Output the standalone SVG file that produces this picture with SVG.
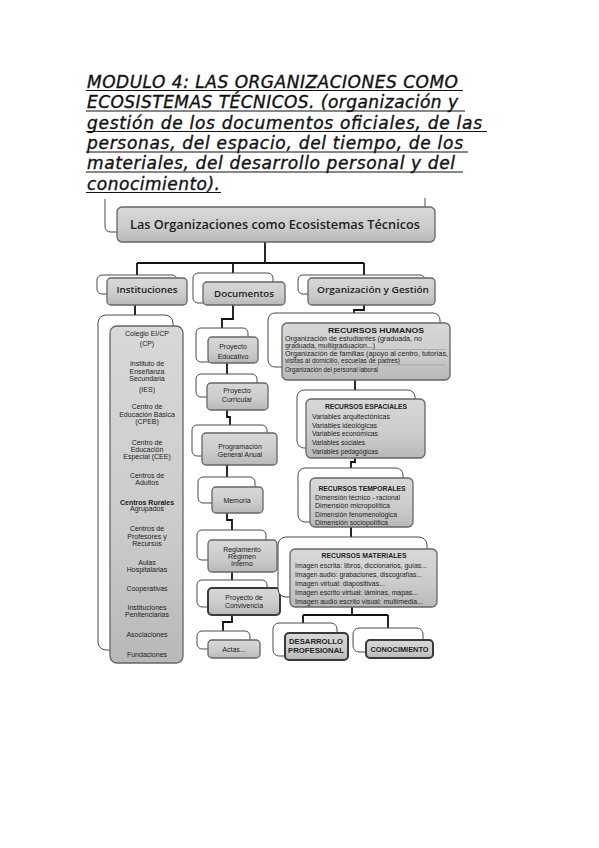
<svg xmlns="http://www.w3.org/2000/svg" width="599" height="848" viewBox="0 0 599 848">
<defs>
<linearGradient id="g" x1="0" y1="0" x2="0" y2="1">
<stop offset="0" stop-color="#d8d8d8"/>
<stop offset="0.6" stop-color="#cbcbcb"/>
<stop offset="1" stop-color="#b8b8b8"/>
</linearGradient>
</defs>
<style>
.title{font-family:"DejaVu Sans",sans-serif;font-style:oblique;font-size:17px;fill:#111;stroke:#111;stroke-width:0.35;}
.ul{stroke:#111;stroke-width:1.2;}
.back{fill:#fff;stroke:#4a4a4a;stroke-width:1;}
.box{fill:url(#g);stroke:#666;stroke-width:1.3;}
.dk{stroke:#3a3a3a;stroke-width:2;}
.conn{fill:none;stroke:#111;stroke-width:1.8;}
.t{font-family:"Liberation Sans",Arial,sans-serif;fill:#222;text-anchor:middle;font-size:7px;}
.h{font-family:"Open Sans","Liberation Sans",sans-serif;fill:#222;text-anchor:middle;font-weight:600;}
.l{font-family:"Liberation Sans",Arial,sans-serif;fill:#222;font-size:6.5px;}
.b{font-weight:bold;}
.sep{stroke:#9a9a9a;stroke-width:0.6;}
</style>
<rect width="599" height="848" fill="#fff"/>
<g id="title">
<text class="title" x="87" y="87.5" textLength="371" lengthAdjust="spacing">MODULO 4: LAS ORGANIZACIONES COMO</text>
<text class="title" x="87" y="108" textLength="371" lengthAdjust="spacing">ECOSISTEMAS TÉCNICOS. (organización y</text>
<text class="title" x="87" y="128.5" textLength="395" lengthAdjust="spacing">gestión de los documentos oficiales, de las</text>
<text class="title" x="87" y="149" textLength="376" lengthAdjust="spacing">personas, del espacio, del tiempo, de los</text>
<text class="title" x="87" y="169" textLength="368" lengthAdjust="spacing">materiales, del desarrollo personal y del</text>
<text class="title" x="87" y="189.5" textLength="133" lengthAdjust="spacing">conocimiento).</text>
<line class="ul" x1="86" y1="90.5" x2="463" y2="90.5"/>
<line class="ul" x1="86" y1="111" x2="465" y2="111"/>
<line class="ul" x1="86" y1="131.5" x2="487" y2="131.5"/>
<line class="ul" x1="86" y1="152" x2="468" y2="152"/>
<line class="ul" x1="86" y1="172" x2="463" y2="172"/>
<line class="ul" x1="86" y1="192.5" x2="221" y2="192.5"/>
</g>
<g id="frame">
<path d="M105,199 V226 Q105,232 111,232 H118" fill="none" stroke="#4a4a4a" stroke-width="1"/>
<line x1="425" y1="198" x2="425" y2="207" stroke="#4a4a4a" stroke-width="1"/>
</g>
<g id="connectors">
<path class="conn" d="M265,242 V263"/>
<path class="conn" d="M137,263 H364"/>
<path class="conn" d="M137,263 V275"/>
<path class="conn" d="M233,263 V273"/>
<path class="conn" d="M364,263 V275"/>
<path class="conn" d="M135,305 V315"/>
<path class="conn" d="M233,305 V319 H222 V328"/>
<path class="conn" d="M227,363 V375"/>
<path class="conn" d="M227,410 V417 H230 V425"/>
<path class="conn" d="M227,465 V477"/>
<path class="conn" d="M227,513 V520 H232 V530"/>
<path class="conn" d="M232,572 V580"/>
<path class="conn" d="M232,615 V622 H223 V631"/>
<path class="conn" d="M364,305 V310 H354 V313"/>
<path class="conn" d="M355,380 V390"/>
<path class="conn" d="M355,458 V462 H351 V468"/>
<path class="conn" d="M351,527 V537"/>
<path class="conn" d="M352,607 V615"/>
<path class="conn" d="M303,615 H388"/>
<path class="conn" d="M303,615 V623"/>
<path class="conn" d="M388,615 V628"/>
</g>
<g id="n-main">
<rect class="box" x="117" y="207" width="318" height="35" rx="5" stroke="#5a5a5a"/>
<text class="h" x="275" y="229" font-size="13" textLength="290" lengthAdjust="spacingAndGlyphs">Las Organizaciones como Ecosistemas Técnicos</text>
</g>
<g id="n-instituciones">
<rect class="back" x="97" y="275" width="80" height="19" rx="5"/>
<rect class="box" x="107" y="278" width="80" height="27" rx="4"/>
<text class="h" x="147" y="292.5" font-size="9.5" textLength="61" lengthAdjust="spacingAndGlyphs">Instituciones</text>
</g>
<g id="n-documentos">
<rect class="back" x="193" y="273" width="80" height="30" rx="5"/>
<rect class="box" x="203" y="282" width="82" height="23" rx="4"/>
<text class="h" x="244" y="297" font-size="9.5" textLength="60" lengthAdjust="spacingAndGlyphs">Documentos</text>
</g>
<g id="n-organizacion">
<rect class="back" x="298" y="275" width="127" height="19" rx="5"/>
<rect class="box" x="308" y="278" width="127" height="27" rx="4"/>
<text class="h" x="373" y="293" font-size="9.5" textLength="112" lengthAdjust="spacingAndGlyphs">Organización y Gestión</text>
</g>
<g id="n-lista-instituciones">
<rect class="back" x="98" y="315" width="75" height="335" rx="8" stroke="#333" stroke-width="1.3"/>
<rect class="box" x="110" y="326" width="73" height="337" rx="7"/>
<text class="t" x="147" y="335.5">Colegio EI/CP</text>
<text class="t" x="147" y="345.5">(CP)</text>
<text class="t" x="147" y="365.5">Instituto de</text>
<text class="t" x="147" y="373.5">Enseñanza</text>
<text class="t" x="147" y="381">Secundaria</text>
<text class="t" x="147" y="392">(IES)</text>
<text class="t" x="147" y="409">Centro de</text>
<text class="t" x="147" y="416.5">Educación Básica</text>
<text class="t" x="147" y="424">(CPEB)</text>
<text class="t" x="147" y="444.5">Centro de</text>
<text class="t" x="147" y="451.5">Educación</text>
<text class="t" x="147" y="459">Especial (CEE)</text>
<text class="t" x="147" y="477.5">Centros de</text>
<text class="t" x="147" y="484.5">Adultos</text>
<text class="t b" x="147" y="504.5">Centros Rurales</text>
<text class="t" x="147" y="511">Agrupados</text>
<text class="t" x="147" y="530.5">Centros de</text>
<text class="t" x="147" y="538.5">Profesores y</text>
<text class="t" x="147" y="545.5">Recursos</text>
<text class="t" x="147" y="564.5">Aulas</text>
<text class="t" x="147" y="571.5">Hospitalarias</text>
<text class="t" x="147" y="590.5">Cooperativas</text>
<text class="t" x="147" y="609.5">Instituciones</text>
<text class="t" x="147" y="617">Penitenciarias</text>
<text class="t" x="147" y="636.5">Asociaciones</text>
<text class="t" x="147" y="656.5">Fundaciones</text>
</g>
<g id="n-proyecto-educativo">
<rect class="back" x="196" y="328" width="52" height="34" rx="5"/>
<rect class="box" x="208" y="337" width="50" height="26" rx="4"/>
<text class="t" x="233" y="349">Proyecto</text>
<text class="t" x="233" y="358.5">Educativo</text>
</g>
<g id="n-proyecto-curricular">
<rect class="back" x="196" y="374" width="61" height="23" rx="5"/>
<rect class="box" x="207" y="383" width="61" height="27" rx="4"/>
<text class="t" x="237" y="392.5">Proyecto</text>
<text class="t" x="237" y="402">Curricular</text>
</g>
<g id="n-programacion">
<rect class="back" x="192" y="425" width="75" height="31" rx="5"/>
<rect class="box" x="202" y="433" width="75" height="32" rx="4"/>
<text class="t" x="240" y="449">Programación</text>
<text class="t" x="240" y="456.5">General Anual</text>
</g>
<g id="n-memoria">
<rect class="back" x="198" y="477" width="57" height="26" rx="5"/>
<rect class="box" x="212" y="487" width="51" height="26" rx="4"/>
<text class="t" x="237" y="502.5">Memoria</text>
</g>
<g id="n-reglamento">
<rect class="back" x="197" y="530" width="69" height="30" rx="5"/>
<rect class="box" x="208" y="540" width="69" height="32" rx="4"/>
<text class="t" x="242" y="551.5">Reglamento</text>
<text class="t" x="242" y="558.5">Régimen</text>
<text class="t" x="242" y="566">Interno</text>
</g>
<g id="n-convivencia">
<rect class="back" x="197" y="580" width="70" height="27" rx="5"/>
<rect class="box dk" x="208" y="588" width="72" height="27" rx="4"/>
<text class="t" x="244" y="599.5">Proyecto de</text>
<text class="t" x="244" y="607.5">Convivencia</text>
</g>
<g id="n-actas">
<rect class="back" x="197" y="631" width="53" height="18" rx="5"/>
<rect class="box" x="208" y="640" width="52" height="18" rx="4"/>
<text class="t" x="234" y="651.5">Actas...</text>
</g>
<g id="n-rrhh">
<rect class="back" x="268" y="313" width="172" height="54" rx="7"/>
<rect class="box" x="282" y="323" width="168" height="57" rx="5"/>
<text class="l b" x="376" y="332.5" text-anchor="middle" font-size="7.5" textLength="96" lengthAdjust="spacingAndGlyphs">RECURSOS HUMANOS</text>
<text class="l" x="285" y="340.5" textLength="137" lengthAdjust="spacingAndGlyphs">Organización de estudiantes (graduada, no</text>
<text class="l" x="285" y="347.5" textLength="90" lengthAdjust="spacingAndGlyphs">graduada, multigraduacion...)</text>
<line class="sep" x1="285" y1="349.5" x2="446" y2="349.5"/>
<text class="l" x="285" y="355.5" textLength="163" lengthAdjust="spacingAndGlyphs">Organización de familias (apoyo al centro, tutorías,</text>
<text class="l" x="285" y="362.5" textLength="115" lengthAdjust="spacingAndGlyphs">visitas al domicilio, escuelas de padres)</text>
<line class="sep" x1="285" y1="365" x2="446" y2="365"/>
<text class="l" x="285" y="372" textLength="93" lengthAdjust="spacingAndGlyphs">Organización del personal laboral</text>
</g>
<g id="n-espaciales">
<rect class="back" x="297" y="390" width="118" height="58" rx="7"/>
<rect class="box" x="306" y="399" width="119" height="59" rx="5"/>
<text class="l b" x="366" y="408.5" text-anchor="middle" font-size="7.5" textLength="82" lengthAdjust="spacingAndGlyphs">RECURSOS ESPACIALES</text>
<text class="l" x="312" y="418.5" textLength="78" lengthAdjust="spacingAndGlyphs">Variables arquitectónicas</text>
<text class="l" x="312" y="427.5" textLength="65" lengthAdjust="spacingAndGlyphs">Variables ideológicas</text>
<text class="l" x="312" y="435.5" textLength="66" lengthAdjust="spacingAndGlyphs">Variables económicas</text>
<text class="l" x="312" y="445" textLength="53" lengthAdjust="spacingAndGlyphs">Variables sociales</text>
<text class="l" x="312" y="454" textLength="66" lengthAdjust="spacingAndGlyphs">Variables pedagógicas</text>
</g>
<g id="n-temporales">
<rect class="back" x="298" y="468" width="105" height="54" rx="7"/>
<rect class="box" x="310" y="478" width="103" height="49" rx="5"/>
<text class="l b" x="362" y="490.5" text-anchor="middle" font-size="7.5" textLength="87" lengthAdjust="spacingAndGlyphs">RECURSOS TEMPORALES</text>
<text class="l" x="315" y="499.5" textLength="85" lengthAdjust="spacingAndGlyphs">Dimensión técnico - racional</text>
<text class="l" x="315" y="508" textLength="75" lengthAdjust="spacingAndGlyphs">Dimensión micropolítica</text>
<text class="l" x="315" y="516.5" textLength="82" lengthAdjust="spacingAndGlyphs">Dimensión fenomenológica</text>
<text class="l" x="315" y="524.5" textLength="73" lengthAdjust="spacingAndGlyphs">Dimensión sociopolítica</text>
</g>
<g id="n-materiales">
<rect class="back" x="278" y="537" width="149" height="60" rx="8"/>
<rect class="box" x="290" y="549" width="147" height="58" rx="5"/>
<text class="l b" x="364" y="557.5" text-anchor="middle" font-size="7.5" textLength="85" lengthAdjust="spacingAndGlyphs">RECURSOS MATERIALES</text>
<text class="l" x="295" y="567.5" textLength="132" lengthAdjust="spacingAndGlyphs">Imagen escrita: libros, diccionarios, guías...</text>
<text class="l" x="295" y="576.5" textLength="127" lengthAdjust="spacingAndGlyphs">Imagen audio: grabaciones, discografías...</text>
<text class="l" x="295" y="585.5" textLength="90" lengthAdjust="spacingAndGlyphs">Imagen virtual: diapositivas...</text>
<text class="l" x="295" y="594.5" textLength="123" lengthAdjust="spacingAndGlyphs">Imagen escrito virtual: láminas, mapas...</text>
<text class="l" x="295" y="603.5" textLength="128" lengthAdjust="spacingAndGlyphs">Imagen audio escrito visual: multimedia...</text>
</g>
<g id="n-desarrollo">
<rect class="back" x="273" y="623" width="64" height="33" rx="6"/>
<rect class="box dk" x="285" y="633" width="63" height="27" rx="4"/>
<text class="l b" x="316" y="643.5" text-anchor="middle" font-size="7.5" textLength="54" lengthAdjust="spacingAndGlyphs">DESARROLLO</text>
<text class="l b" x="316" y="653" text-anchor="middle" font-size="7.5" textLength="56" lengthAdjust="spacingAndGlyphs">PROFESIONAL</text>
</g>
<g id="n-conocimiento">
<rect class="back" x="353" y="628" width="70" height="24" rx="6"/>
<rect class="box dk" x="366" y="640" width="67" height="18" rx="4"/>
<text class="l b" x="399.5" y="651.5" text-anchor="middle" font-size="7.5" textLength="58" lengthAdjust="spacingAndGlyphs">CONOCIMIENTO</text>
</g>
</svg>
